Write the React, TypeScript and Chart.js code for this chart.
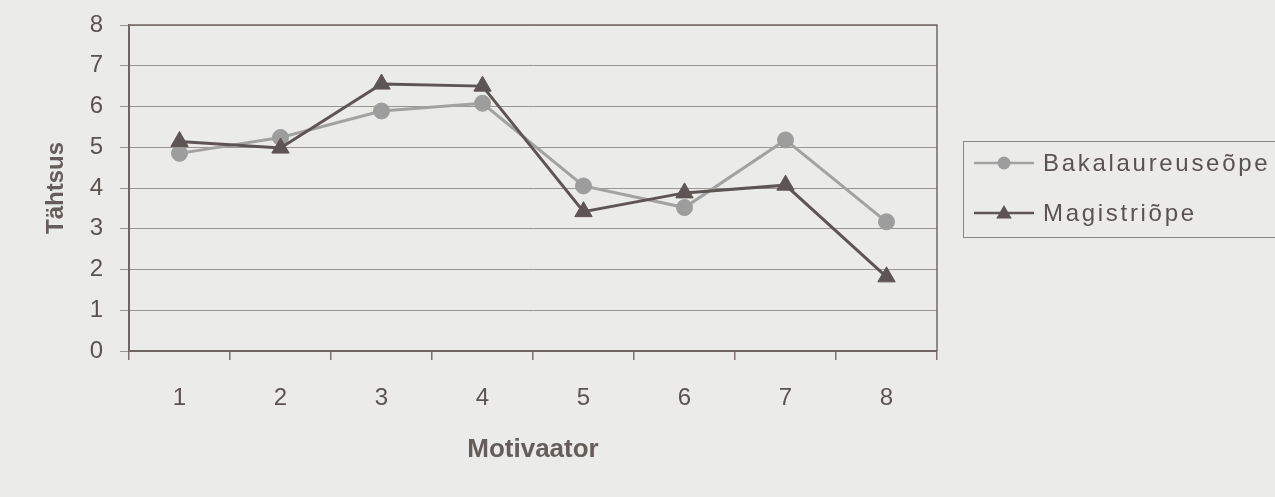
import { useEffect, useRef } from 'react';
import { Chart, registerables } from 'chart.js';

Chart.register(...registerables);

const categories = ['1', '2', '3', '4', '5', '6', '7', '8'];
const seriesNames = ['Bakalaureuseõpe', 'Magistriõpe'];
const bakalaureuse = [4.85, 5.24, 5.89, 6.08, 4.05, 3.52, 5.18, 3.17];
const magistri = [5.14, 4.98, 6.55, 6.5, 3.42, 3.88, 4.07, 1.82];
const yMin = 0;
const yMax = 8;
const yStep = 1;
const xTitle = 'Motivaator';
const yTitle = 'Tähtsus';

const W = 1275;
const H = 497;
const FONT = '"Liberation Sans", Arial, sans-serif';
const TEXT = '#5a5350';
const BG = '#ebebe9';

const bgPlugin = {
  id: 'bg',
  beforeDraw(chart: any) {
    const { ctx } = chart;
    ctx.save();
    ctx.fillStyle = BG;
    ctx.fillRect(0, 0, chart.width, chart.height);
    ctx.restore();
  },
};

const framePlugin = {
  id: 'frame',
  beforeDatasetsDraw(chart: any) {
    const { ctx, chartArea: a } = chart;
    ctx.save();
    ctx.strokeStyle = '#716a66';
    ctx.lineWidth = 1.5;
    ctx.beginPath();
    ctx.moveTo(a.left, a.top);
    ctx.lineTo(a.right, a.top);
    ctx.lineTo(a.right, a.bottom);
    ctx.stroke();
    ctx.restore();
  },
};

const legendPlugin = {
  id: 'boxLegend',
  afterDraw(chart: any) {
    const { ctx } = chart;
    const boxL = 963, boxT = 141, boxB = 237;
    ctx.save();
    ctx.strokeStyle = '#8a8480';
    ctx.lineWidth = 1;
    ctx.strokeRect(boxL + 0.5, boxT + 0.5, W + 20 - boxL, boxB - boxT);
    const rows = [163, 213];
    chart.data.datasets.forEach((ds: any, i: number) => {
      const y = rows[i];
      ctx.strokeStyle = ds.borderColor;
      ctx.lineWidth = 2.5;
      ctx.beginPath();
      ctx.moveTo(974, y);
      ctx.lineTo(1034, y);
      ctx.stroke();
      ctx.fillStyle = ds.pointBackgroundColor;
      const cx = 1004;
      ctx.beginPath();
      if (ds.pointStyle === 'triangle') {
        const r = 9;
        for (let k = 0; k < 3; k++) {
          const ang = (k * 2 * Math.PI) / 3;
          const px = cx + Math.sin(ang) * r;
          const py = y - Math.cos(ang) * r + 1;
          if (k === 0) ctx.moveTo(px, py);
          else ctx.lineTo(px, py);
        }
        ctx.closePath();
      } else {
        ctx.arc(cx, y, 6.5, 0, Math.PI * 2);
      }
      ctx.fill();
      ctx.fillStyle = TEXT;
      ctx.font = `24px ${FONT}`;
      ctx.textBaseline = 'middle';
      ctx.textAlign = 'left';
      (ctx as any).letterSpacing = '2.7px';
      ctx.fillText(ds.label, 1043, y + 1);
      (ctx as any).letterSpacing = '0px';
    });
    ctx.restore();
  },
};

export default function App() {
  const ref = useRef<HTMLCanvasElement>(null);
  useEffect(() => {
    document.body.style.margin = '0';
    const chart = new Chart(ref.current as HTMLCanvasElement, {
      type: 'line',
      data: {
        labels: categories,
        datasets: [
          {
            label: seriesNames[0],
            data: bakalaureuse,
            borderColor: '#a2a2a2',
            backgroundColor: '#9d9d9d',
            pointBackgroundColor: '#9d9d9d',
            pointBorderColor: '#9d9d9d',
            pointStyle: 'circle',
            pointRadius: 8,
            pointBorderWidth: 1,
            borderWidth: 3,
            tension: 0,
            order: 2,
          },
          {
            label: seriesNames[1],
            data: magistri,
            borderColor: '#5d5553',
            backgroundColor: '#5d5553',
            pointBackgroundColor: '#5d5553',
            pointBorderColor: '#5d5553',
            pointStyle: 'triangle',
            pointRadius: 10,
            pointBorderWidth: 1,
            borderWidth: 3,
            tension: 0,
            order: 1,
          },
        ] as any,
      },
      options: {
        responsive: false,
        animation: false,
        layout: { padding: { left: 0, top: 25, right: W - 937, bottom: 0 } },
        plugins: {
          legend: { display: false },
          tooltip: { enabled: false },
        },
        scales: {
          x: {
            type: 'category',
            offset: true,
            grid: {
              offset: true,
              drawOnChartArea: false,
              drawTicks: true,
              tickLength: 9,
              color: '#7a7370',
              lineWidth: 1.5,
            },
            border: { color: '#6e6662', width: 2 },
            ticks: {
              color: TEXT,
              font: { family: FONT, size: 24 },
              padding: 24,
              maxRotation: 0,
            },
            title: {
              display: true,
              text: xTitle,
              color: '#655d59',
              font: { family: FONT, size: 26, weight: 'bold' },
              padding: { top: 0, bottom: 32 },
            },
            afterFit(scale: any) {
              scale.height = H - 351;
              scale.paddingLeft = 0;
              scale.paddingRight = 0;
            },
          },
          y: {
            min: yMin,
            max: yMax,
            ticks: {
              stepSize: yStep,
              color: TEXT,
              font: { family: FONT, size: 24 },
              padding: 17,
            },
            grid: {
              color: '#9a9490',
              lineWidth: 1,
              tickLength: 9,
            },
            border: { color: '#6e6662', width: 2 },
            title: {
              display: true,
              text: yTitle,
              color: '#655d59',
              font: { family: FONT, size: 24, weight: 'bold' },
              padding: { top: 42, bottom: 0 },
            },
            afterFit(scale: any) {
              scale.width = 129;
              scale.paddingTop = 0;
              scale.paddingBottom = 0;
            },
          },
        },
      } as any,
      plugins: [bgPlugin, framePlugin, legendPlugin],
    });
    return () => chart.destroy();
  }, []);
  return (
    <div style={{ position: 'fixed', left: 0, top: 0, width: W, height: H, background: BG }}>
      <canvas ref={ref} width={W} height={H} style={{ display: 'block', width: W, height: H }} />
    </div>
  );
}
